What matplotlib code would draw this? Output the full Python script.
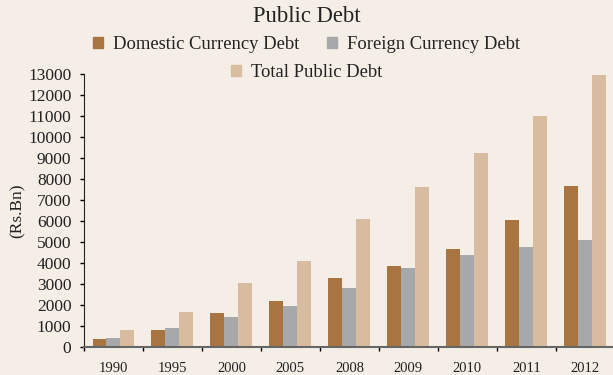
import numpy as np
import matplotlib.pyplot as plt
from matplotlib.patches import Patch

years = ["1990", "1995", "2000", "2005", "2008", "2009", "2010", "2011", "2012"]
domestic = [370, 800, 1620, 2190, 3290, 3860, 4670, 6050, 7670]
foreign = [430, 900, 1430, 1950, 2810, 3760, 4380, 4760, 5100]
total = [810, 1660, 3050, 4100, 6100, 7620, 9240, 11000, 12950]

bg = "#F4EEE6"
c_dom = "#A8743F"
c_for = "#A7A8AA"
c_tot = "#D8BC9F"

plt.rcParams['font.family'] = ['Liberation Serif', 'DejaVu Serif']

fig = plt.figure(figsize=(6.13, 3.75), dpi=100, facecolor=bg)
ax = fig.add_axes([0.137, 0.075, 0.866, 0.728], facecolor=bg)

x = np.arange(len(years))
w = 0.237
ax.bar(x - w, domestic, w, color=c_dom)
ax.bar(x, foreign, w, color=c_for)
ax.bar(x + w, total, w, color=c_tot)

ax.set_xlim(-0.5, len(years) - 0.5)
ax.set_ylim(0, 13000)
ax.set_yticks(np.arange(0, 13001, 1000))
ax.tick_params(axis='y', labelsize=12.5, length=3, width=1, direction='out', pad=6,
               labelcolor='#222222')

ax.set_xticks(x)
ax.set_xticklabels(years)
ax.set_xticks(np.arange(0, len(years)) - 0.5, minor=True)
ax.tick_params(axis='x', which='major', length=0, labelsize=10.5, pad=11,
               labelcolor='#222222')
ax.tick_params(axis='x', which='minor', length=3, width=1, direction='out')

for s in ['top', 'right']:
    ax.spines[s].set_visible(False)
ax.spines['left'].set_color('#222222')
ax.spines['bottom'].set_color('#666666')
ax.spines['bottom'].set_linewidth(1.5)

ax.set_ylabel("(Rs.Bn)", fontsize=12.5, labelpad=2, color='#222222')

fig.text(0.5, 0.955, "Public Debt", ha='center', va='center', fontsize=16.3, color='#222222')

h1 = [Patch(color=c_dom, label="Domestic Currency Debt"),
      Patch(color=c_for, label="Foreign Currency Debt")]
h2 = [Patch(color=c_tot, label="Total Public Debt")]
leg1 = fig.legend(handles=h1, loc='center', bbox_to_anchor=(0.5, 0.882), ncol=2,
                  frameon=False, fontsize=13.4, handlelength=0.55, handleheight=0.55,
                  columnspacing=1.5, handletextpad=0.5, borderaxespad=0,
                  labelcolor='#222222')
leg2 = fig.legend(handles=h2, loc='center', bbox_to_anchor=(0.5, 0.807),
                  frameon=False, fontsize=13.4, handlelength=0.55, handleheight=0.55,
                  handletextpad=0.5, borderaxespad=0, labelcolor='#222222')

fig.savefig("out.png", dpi=100, facecolor=bg)
